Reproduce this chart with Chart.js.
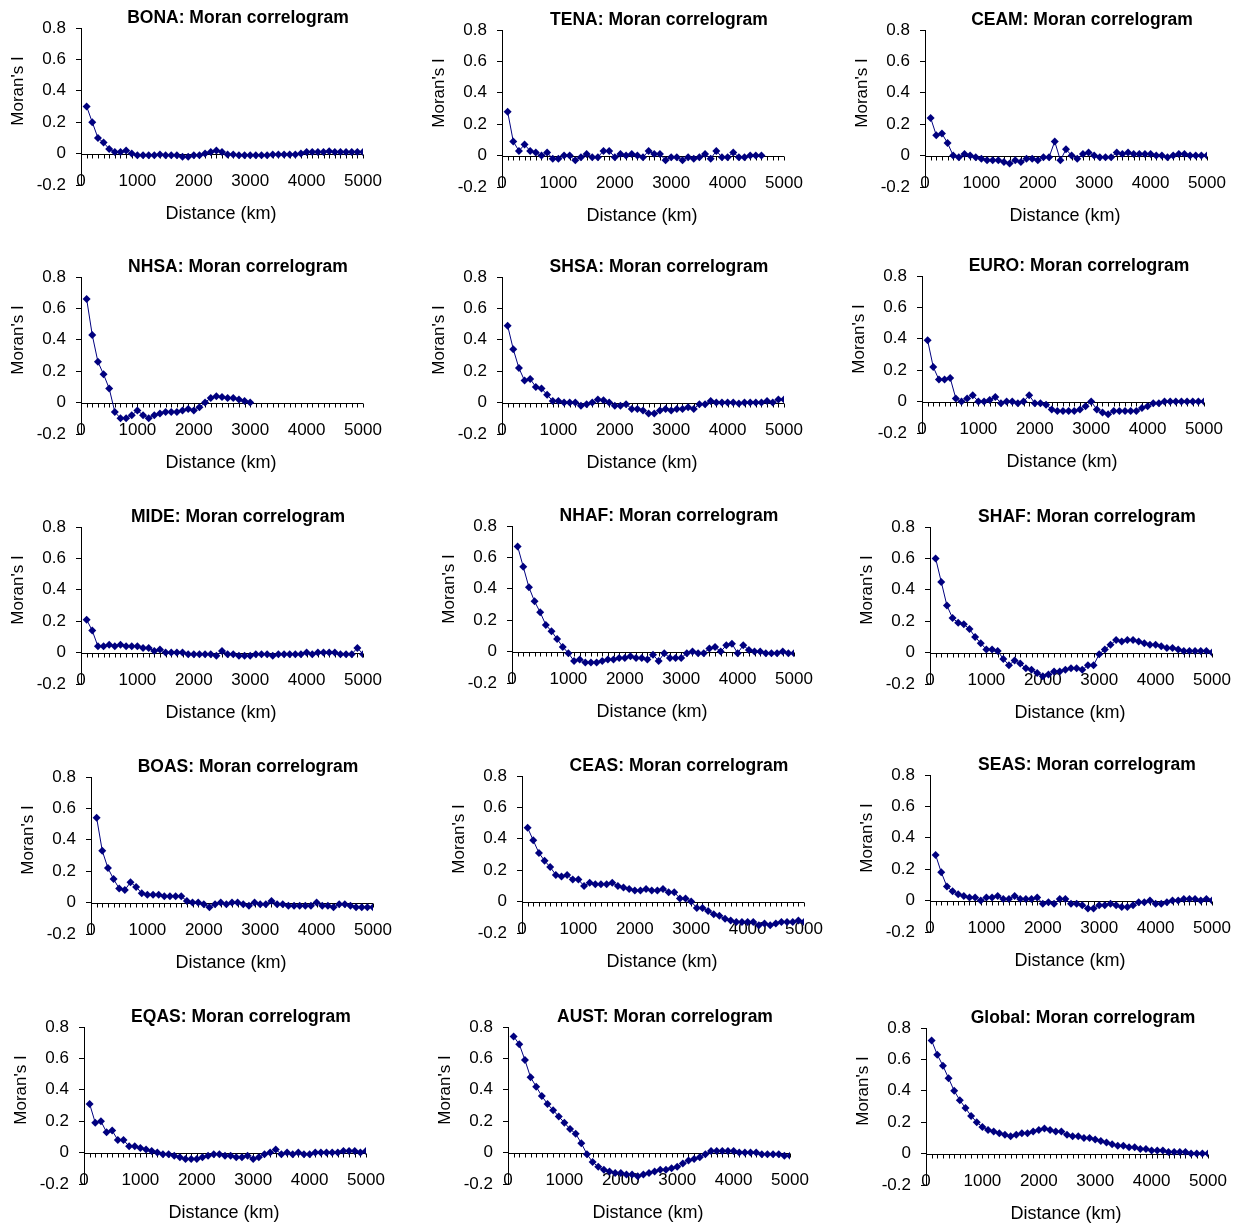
<!DOCTYPE html>
<html>
<head>
<meta charset="utf-8">
<script src="https://cdn.jsdelivr.net/npm/chart.js@4.4.1/dist/chart.umd.min.js"></script>
<style>
  html, body { margin: 0; padding: 0; background: #fff; overflow: hidden; }
  #wrap { position: relative; width: 1239px; height: 1225px; }
  #wrap canvas { position: absolute; }
</style>
</head>
<body>
<div id="wrap"></div>
<script>
// distance classes (km)
var distances = [100, 200, 300, 400, 500, 600, 700, 800, 900, 1000,
  1100, 1200, 1300, 1400, 1500, 1600, 1700, 1800, 1900, 2000,
  2100, 2200, 2300, 2400, 2500, 2600, 2700, 2800, 2900, 3000,
  3100, 3200, 3300, 3400, 3500, 3600, 3700, 3800, 3900, 4000,
  4100, 4200, 4300, 4400, 4500, 4600, 4700, 4800, 4900, 5000];

var regions = ['BONA', 'TENA', 'CEAM', 'NHSA', 'SHSA', 'EURO', 'MIDE', 'NHAF', 'SHAF',
  'BOAS', 'CEAS', 'SEAS', 'EQAS', 'AUST', 'Global'];

var xTicks = [0, 1000, 2000, 3000, 4000, 5000];
var yTicks = [-0.2, 0, 0.2, 0.4, 0.6, 0.8];

// Moran's I per distance class
var bona = [0.30, 0.20, 0.10, 0.07, 0.03, 0.01, 0.01, 0.02, 0.00, -0.01,
  -0.01, -0.01, -0.01, -0.005, -0.01, -0.01, -0.01, -0.02, -0.02, -0.01,
  -0.01, 0.00, 0.01, 0.02, 0.01, -0.005, -0.005, -0.01, -0.01, -0.01,
  -0.01, -0.01, -0.01, -0.005, -0.005, -0.005, -0.005, -0.005, 0.00, 0.01,
  0.01, 0.01, 0.01, 0.015, 0.01, 0.01, 0.01, 0.01, 0.01, 0.01];
var tena = [0.28, 0.09, 0.03, 0.07, 0.03, 0.02, 0.00, 0.02, -0.02, -0.02,
  0.00, 0.00, -0.03, -0.01, 0.01, -0.01, -0.01, 0.03, 0.03, -0.01,
  0.01, 0.00, 0.01, 0.00, -0.01, 0.03, 0.01, 0.01, -0.03, -0.01,
  -0.01, -0.03, -0.01, -0.02, -0.01, 0.01, -0.02, 0.03, -0.01, -0.01,
  0.02, -0.01, -0.01, 0.00, 0.00, 0.00];
var ceam = [0.24, 0.13, 0.14, 0.08, 0.00, -0.01, 0.01, 0.00, -0.01, -0.02,
  -0.03, -0.03, -0.03, -0.04, -0.05, -0.03, -0.04, -0.02, -0.02, -0.03,
  -0.01, -0.01, 0.09, -0.03, 0.04, 0.00, -0.02, 0.01, 0.02, 0.00,
  -0.01, -0.01, -0.01, 0.02, 0.01, 0.02, 0.01, 0.01, 0.01, 0.01,
  0.00, 0.00, -0.01, 0.00, 0.01, 0.01, 0.00, 0.00, 0.00, 0.00];
var nhsa = [0.66, 0.43, 0.26, 0.18, 0.09, -0.06, -0.10, -0.10, -0.08, -0.05,
  -0.08, -0.10, -0.08, -0.07, -0.06, -0.06, -0.06, -0.05, -0.04, -0.05,
  -0.03, 0.00, 0.03, 0.04, 0.035, 0.03, 0.03, 0.02, 0.01, 0.00];
var shsa = [0.49, 0.34, 0.22, 0.14, 0.15, 0.10, 0.09, 0.05, 0.01, 0.01,
  0.00, 0.00, 0.00, -0.02, -0.01, 0.00, 0.02, 0.015, 0.00, -0.02,
  -0.02, -0.01, -0.04, -0.04, -0.05, -0.07, -0.07, -0.05, -0.04, -0.05,
  -0.04, -0.04, -0.03, -0.04, -0.01, -0.01, 0.01, 0.00, 0.00, 0.00,
  0.00, -0.005, 0.00, 0.00, 0.00, 0.00, 0.01, 0.00, 0.02, 0.02];
var euro = [0.39, 0.22, 0.14, 0.14, 0.15, 0.02, 0.00, 0.02, 0.04, 0.00,
  0.00, 0.01, 0.03, -0.01, 0.00, 0.00, -0.01, 0.00, 0.04, -0.01,
  -0.01, -0.02, -0.05, -0.06, -0.06, -0.06, -0.06, -0.05, -0.03, 0.00,
  -0.05, -0.07, -0.08, -0.06, -0.06, -0.06, -0.06, -0.06, -0.04, -0.03,
  -0.01, -0.01, 0.00, 0.00, 0.00, 0.00, 0.00, 0.00, 0.00, 0.00];
var mide = [0.21, 0.14, 0.04, 0.04, 0.05, 0.04, 0.05, 0.04, 0.04, 0.04,
  0.03, 0.03, 0.01, 0.02, 0.00, 0.00, 0.00, 0.00, -0.01, -0.01,
  -0.01, -0.01, -0.01, -0.02, 0.01, -0.01, -0.01, -0.02, -0.02, -0.02,
  -0.01, -0.01, -0.01, -0.02, -0.01, -0.01, -0.01, -0.01, -0.01, 0.00,
  -0.01, 0.00, 0.00, 0.00, 0.00, -0.01, -0.01, -0.01, 0.03, -0.01];
var nhaf = [0.67, 0.54, 0.41, 0.32, 0.25, 0.17, 0.13, 0.08, 0.03, -0.01,
  -0.06, -0.05, -0.07, -0.07, -0.07, -0.06, -0.05, -0.05, -0.04, -0.04,
  -0.03, -0.04, -0.04, -0.05, -0.02, -0.06, -0.01, -0.04, -0.04, -0.04,
  -0.01, 0.00, -0.01, -0.01, 0.02, 0.03, 0.00, 0.04, 0.05, -0.01,
  0.04, 0.01, 0.00, 0.00, -0.01, -0.01, -0.01, 0.00, -0.01, -0.01];
var shaf = [0.60, 0.45, 0.30, 0.22, 0.19, 0.18, 0.15, 0.10, 0.06, 0.02,
  0.02, 0.01, -0.04, -0.08, -0.05, -0.07, -0.10, -0.11, -0.13, -0.15,
  -0.14, -0.12, -0.12, -0.11, -0.10, -0.10, -0.11, -0.08, -0.08, -0.01,
  0.02, 0.05, 0.08, 0.07, 0.08, 0.08, 0.07, 0.06, 0.05, 0.05,
  0.04, 0.03, 0.03, 0.02, 0.01, 0.01, 0.01, 0.01, 0.01, 0.00];
var boas = [0.54, 0.33, 0.22, 0.15, 0.09, 0.08, 0.13, 0.10, 0.06, 0.05,
  0.05, 0.05, 0.04, 0.04, 0.04, 0.04, 0.01, 0.00, 0.00, -0.01,
  -0.03, -0.01, 0.00, -0.01, 0.00, 0.00, -0.01, -0.02, 0.00, -0.01,
  -0.01, 0.01, -0.01, -0.01, -0.02, -0.02, -0.02, -0.02, -0.02, 0.00,
  -0.02, -0.02, -0.03, -0.01, -0.01, -0.02, -0.03, -0.03, -0.03, -0.03];
var ceas = [0.47, 0.39, 0.31, 0.26, 0.22, 0.17, 0.16, 0.17, 0.14, 0.14,
  0.10, 0.12, 0.11, 0.11, 0.11, 0.12, 0.10, 0.09, 0.08, 0.07,
  0.07, 0.08, 0.07, 0.07, 0.08, 0.06, 0.06, 0.02, 0.02, 0.00,
  -0.04, -0.04, -0.06, -0.08, -0.09, -0.11, -0.12, -0.13, -0.13, -0.13,
  -0.13, -0.15, -0.14, -0.15, -0.14, -0.13, -0.13, -0.13, -0.12, -0.13];
var seas = [0.29, 0.18, 0.09, 0.06, 0.04, 0.03, 0.02, 0.02, 0.00, 0.02,
  0.02, 0.03, 0.01, 0.01, 0.03, 0.01, 0.01, 0.01, 0.02, -0.02,
  -0.01, -0.02, 0.01, 0.01, -0.02, -0.02, -0.03, -0.05, -0.05, -0.03,
  -0.03, -0.02, -0.03, -0.04, -0.04, -0.03, -0.01, -0.01, 0.00, -0.02,
  -0.02, -0.01, 0.00, 0.00, 0.01, 0.01, 0.01, 0.00, 0.01, 0.00];
var eqas = [0.31, 0.19, 0.20, 0.13, 0.14, 0.08, 0.08, 0.04, 0.04, 0.03,
  0.02, 0.01, 0.00, -0.01, -0.01, -0.02, -0.03, -0.04, -0.04, -0.04,
  -0.03, -0.02, -0.01, -0.01, -0.02, -0.02, -0.03, -0.03, -0.02, -0.04,
  -0.03, -0.01, 0.00, 0.02, -0.01, 0.00, -0.01, 0.00, -0.01, -0.01,
  0.00, 0.00, 0.00, 0.00, 0.00, 0.01, 0.01, 0.01, 0.00, 0.01];
var aust = [0.74, 0.69, 0.59, 0.48, 0.42, 0.36, 0.31, 0.27, 0.23, 0.19,
  0.15, 0.12, 0.06, -0.01, -0.06, -0.09, -0.11, -0.12, -0.13, -0.13,
  -0.14, -0.14, -0.15, -0.14, -0.13, -0.12, -0.11, -0.11, -0.10, -0.09,
  -0.07, -0.05, -0.04, -0.03, -0.01, 0.01, 0.01, 0.01, 0.01, 0.01,
  0.00, 0.00, 0.00, 0.00, -0.01, -0.01, -0.01, -0.01, -0.02, -0.02];
var global = [0.72, 0.63, 0.56, 0.48, 0.40, 0.34, 0.29, 0.24, 0.20, 0.17,
  0.15, 0.14, 0.13, 0.12, 0.11, 0.12, 0.13, 0.13, 0.14, 0.15,
  0.16, 0.15, 0.14, 0.14, 0.12, 0.11, 0.11, 0.10, 0.10, 0.09,
  0.08, 0.07, 0.06, 0.05, 0.05, 0.04, 0.04, 0.03, 0.03, 0.02,
  0.02, 0.02, 0.01, 0.01, 0.01, 0.01, 0.00, 0.00, 0.00, 0.00];

var series = [bona, tena, ceam, nhsa, shsa, euro, mide, nhaf, shaf,
  boas, ceas, seas, eqas, aust, global];

// plot-area origin (left edge, top edge) of each panel on the page
var panelPos = [[81, 28], [502, 30], [925, 30],
  [81, 277], [502, 277], [922, 276],
  [81, 527], [512, 526], [930, 527],
  [91, 777], [522, 776], [930, 775],
  [84, 1027], [508, 1027], [926, 1028]];

var FONT = '"Liberation Sans", Arial, sans-serif';
var NAVY = '#00007f';
var PAD_L = 80, PAD_T = 30, PLOT_W = 282, PLOT_H = 157, PAD_R = 26, PAD_B = 60;

// zero line with minor ticks plus panel texts
var panelDecor = {
  id: 'panelDecor',
  beforeDatasetsDraw: function (chart) {
    var ctx = chart.ctx, a = chart.chartArea;
    var xs = chart.scales.x, ys = chart.scales.y;
    var y0 = Math.round(ys.getPixelForValue(0)) + 0.5;
    ctx.save();
    ctx.strokeStyle = '#000';
    ctx.lineWidth = 1;
    ctx.beginPath();
    ctx.moveTo(a.left, y0);
    ctx.lineTo(a.right, y0);
    for (var i = 0; i < distances.length; i++) {
      var px = Math.round(xs.getPixelForValue(distances[i])) + 0.5;
      ctx.moveTo(px, y0);
      ctx.lineTo(px, y0 + 4);
    }
    ctx.stroke();
    ctx.restore();
  },
  afterDraw: function (chart, args, opts) {
    var ctx = chart.ctx, a = chart.chartArea;
    ctx.save();
    ctx.fillStyle = '#000';
    ctx.textAlign = 'center';
    ctx.textBaseline = 'middle';
    ctx.font = 'bold 17.5px ' + FONT;
    ctx.fillText(opts.title, a.left + 157, a.top - 10);
    ctx.font = '18px ' + FONT;
    ctx.fillText('Distance (km)', a.left + 140, a.top + 186);
    ctx.translate(a.left - 63, a.top + 63);
    ctx.rotate(-Math.PI / 2);
    ctx.font = '17px ' + FONT;
    ctx.fillText("Moran's I", 0, 0);
    ctx.restore();
  }
};

var wrap = document.getElementById('wrap');

regions.forEach(function (name, k) {
  var cv = document.createElement('canvas');
  var w = PAD_L + PLOT_W + PAD_R, h = PAD_T + PLOT_H + PAD_B;
  cv.width = w;
  cv.height = h;
  cv.style.width = w + 'px';
  cv.style.height = h + 'px';
  cv.style.left = (panelPos[k][0] - PAD_L) + 'px';
  cv.style.top = (panelPos[k][1] - PAD_T) + 'px';
  wrap.appendChild(cv);

  var pts = series[k].map(function (v, i) { return { x: distances[i], y: v }; });

  new Chart(cv.getContext('2d'), {
    type: 'line',
    data: {
      datasets: [{
        data: pts,
        borderColor: NAVY,
        borderWidth: 1,
        backgroundColor: NAVY,
        pointStyle: 'rectRot',
        pointRadius: 4,
        pointBorderWidth: 0,
        pointBackgroundColor: NAVY,
        tension: 0
      }]
    },
    plugins: [panelDecor],
    options: {
      responsive: false,
      animation: false,
      events: [],
      layout: { padding: { left: 0, top: PAD_T, right: PAD_R, bottom: 0 } },
      plugins: {
        legend: { display: false },
        tooltip: { enabled: false },
        panelDecor: { title: name + ': Moran correlogram' }
      },
      scales: {
        x: {
          type: 'linear',
          min: 0, max: 5000,
          afterFit: function (s) { s.height = PAD_B; },
          afterBuildTicks: function (s) { s.ticks = xTicks.map(function (v) { return { value: v }; }); },
          border: { display: false },
          grid: { display: false, drawTicks: false },
          ticks: {
            // mirrored so the labels sit just above the -0.2 level, like the original
            mirror: true,
            autoSkip: false, maxRotation: 0, padding: -7,
            color: '#000', font: { family: FONT, size: 17 },
            callback: function (v) { return String(v); }
          }
        },
        y: {
          min: -0.2, max: 0.8,
          afterFit: function (s) { s.width = PAD_L; },
          afterBuildTicks: function (s) { s.ticks = yTicks.map(function (v) { return { value: v }; }); },
          border: { display: true, color: '#000', width: 1 },
          grid: { drawOnChartArea: false, tickLength: 5, color: '#000' },
          ticks: {
            padding: 10,
            color: '#000', font: { family: FONT, size: 17 },
            callback: function (v) { return String(Math.round(v * 10) / 10); }
          }
        }
      }
    }
  });
});
</script>
</body>
</html>
